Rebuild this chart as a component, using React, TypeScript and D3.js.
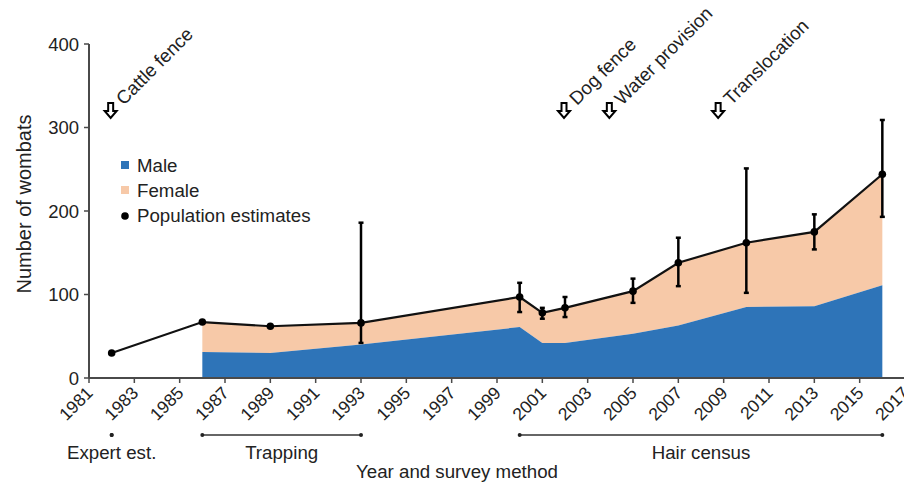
import React from "react";
import * as d3 from "d3";

// Survey years with sex-specific counts (stacked areas)
const areaYears = [1986, 1989, 1993, 2000, 2001, 2002, 2005, 2007, 2010, 2013, 2016];
const maleCounts = [31, 30, 40, 61, 42, 42, 53, 63, 85, 86, 111];
const femaleCounts = [36, 32, 26, 36, 36, 42, 51, 75, 77, 89, 133];

// Population estimates with confidence limits (null = no interval)
const estimateYears = [1982, 1986, 1989, 1993, 2000, 2001, 2002, 2005, 2007, 2010, 2013, 2016];
const estimateValues = [30, 67, 62, 66, 97, 78, 84, 104, 138, 162, 175, 244];
const lowerLimits = [null, null, null, 42, 79, 71, 73, 90, 110, 102, 154, 193];
const upperLimits = [null, null, null, 186, 114, 84, 97, 119, 168, 251, 196, 309];

// Management events
const eventYears = [1982, 2002, 2004, 2008.8];
const eventLabels = ["Cattle fence", "Dog fence", "Water provision", "Translocation"];

// Survey method periods
const methodLabels = ["Expert est.", "Trapping", "Hair census"];
const methodStart = [1982, 1986, 2000];
const methodEnd = [1982, 1993, 2016];

const xTicks = d3.range(1981, 2018, 2);
const yTicks = [0, 100, 200, 300, 400];

const MALE = "#2e74b8";
const FEMALE = "#f7c9a8";
const AXIS = "#4a4a4a";
const FONT = "'Liberation Sans', Arial, sans-serif";

export default function App() {
  const x = d3.scaleLinear().domain([1981, 2017]).range([89, 905]);
  const y = d3.scaleLinear().domain([0, 400]).range([378, 44]);

  const stacked = areaYears.map((yr, i) => ({
    yr,
    male: maleCounts[i],
    total: maleCounts[i] + femaleCounts[i],
  }));

  const maleArea = d3
    .area<any>()
    .x((d) => x(d.yr))
    .y0(y(0))
    .y1((d) => y(d.male))(stacked);

  const femaleArea = d3
    .area<any>()
    .x((d) => x(d.yr))
    .y0((d) => y(d.male))
    .y1((d) => y(d.total))(stacked);

  const estimates = estimateYears.map((yr, i) => ({
    yr,
    v: estimateValues[i],
    lo: lowerLimits[i],
    hi: upperLimits[i],
  }));

  const estLine = d3
    .line<any>()
    .x((d) => x(d.yr))
    .y((d) => y(d.v))(estimates);

  // hollow down arrow, centred on (0,0)
  const arrowPath = "M-2.5,-8 L2.5,-8 L2.5,0 L6,0 L0,7 L-6,0 L-2.5,0 Z";

  return (
    <svg
      width={904}
      height={482}
      style={{ position: "absolute", left: 0, top: 0, background: "#fff" }}
      fontFamily={FONT}
    >
      {/* stacked areas */}
      <path d={femaleArea ?? ""} fill={FEMALE} />
      <path d={maleArea ?? ""} fill={MALE} />

      {/* y axis */}
      <line x1={89} x2={89} y1={y(400)} y2={y(0)} stroke={AXIS} strokeWidth={2} />
      {yTicks.map((t) => (
        <g key={t}>
          <line x1={84} x2={89} y1={y(t)} y2={y(t)} stroke={AXIS} strokeWidth={1.5} />
          <text x={79} y={y(t) + 6.5} textAnchor="end" fontSize={18.5} fill="#222">
            {t}
          </text>
        </g>
      ))}
      <text
        transform={`translate(31,204) rotate(-90)`}
        textAnchor="middle"
        fontSize={20}
        fill="#222"
      >
        Number of wombats
      </text>

      {/* x axis */}
      <line x1={89} x2={904} y1={y(0)} y2={y(0)} stroke={AXIS} strokeWidth={2} />
      {xTicks.map((t) => (
        <g key={t}>
          <line x1={x(t)} x2={x(t)} y1={y(0)} y2={y(0) + 5} stroke={AXIS} strokeWidth={1.5} />
          <text
            transform={`translate(${x(t) + 5},${y(0) + 16}) rotate(-45)`}
            textAnchor="end"
            fontSize={17.5}
            fill="#222"
          >
            {t}
          </text>
        </g>
      ))}

      {/* survey method brackets */}
      {methodLabels.map((m, i) => {
        const x0 = x(methodStart[i]);
        const x1 = x(methodEnd[i]);
        return (
          <g key={m}>
            {x1 > x0 && <line x1={x0} x2={x1} y1={435} y2={435} stroke="#333" strokeWidth={1.5} />}
            <circle cx={x0} cy={435} r={2} fill="#222" />
            <circle cx={x1} cy={435} r={2} fill="#222" />
            <text x={(x0 + x1) / 2} y={459} textAnchor="middle" fontSize={18.7} fill="#222">
              {m}
            </text>
          </g>
        );
      })}
      <text x={457} y={478} textAnchor="middle" fontSize={18.7} fill="#222">
        Year and survey method
      </text>

      {/* error bars */}
      {estimates
        .filter((d) => d.lo !== null)
        .map((d) => (
          <g key={`e${d.yr}`} stroke="#000">
            <line x1={x(d.yr)} x2={x(d.yr)} y1={y(d.lo)} y2={y(d.hi)} strokeWidth={2.5} />
            <line x1={x(d.yr) - 2.5} x2={x(d.yr) + 2.5} y1={y(d.lo)} y2={y(d.lo)} strokeWidth={2.5} />
            <line x1={x(d.yr) - 2.5} x2={x(d.yr) + 2.5} y1={y(d.hi)} y2={y(d.hi)} strokeWidth={2.5} />
          </g>
        ))}

      {/* population estimates */}
      <path d={estLine ?? ""} fill="none" stroke="#111" strokeWidth={2.2} />
      {estimates.map((d) => (
        <circle key={d.yr} cx={x(d.yr)} cy={y(d.v)} r={3.8} fill="#000" />
      ))}

      {/* management events */}
      {eventYears.map((yr, i) => (
        <g key={eventLabels[i]}>
          <path
            d={arrowPath}
            transform={`translate(${x(yr) - 1},${111})`}
            fill="#fff"
            stroke="#000"
            strokeWidth={2}
            strokeLinejoin="miter"
          />
          <text
            transform={`translate(${x(yr) + 12},${106}) rotate(-45)`}
            fontSize={18.7}
            fill="#222"
          >
            {eventLabels[i]}
          </text>
        </g>
      ))}

      {/* legend */}
      <rect x={121} y={161} width={8} height={8} fill={MALE} />
      <text x={137} y={172} fontSize={18.7} fill="#222">Male</text>
      <rect x={121} y={186} width={8} height={8} fill={FEMALE} />
      <text x={137} y={197} fontSize={18.7} fill="#222">Female</text>
      <circle cx={125} cy={216} r={3.8} fill="#000" />
      <text x={137} y={222} fontSize={18.7} fill="#222">Population estimates</text>
    </svg>
  );
}
